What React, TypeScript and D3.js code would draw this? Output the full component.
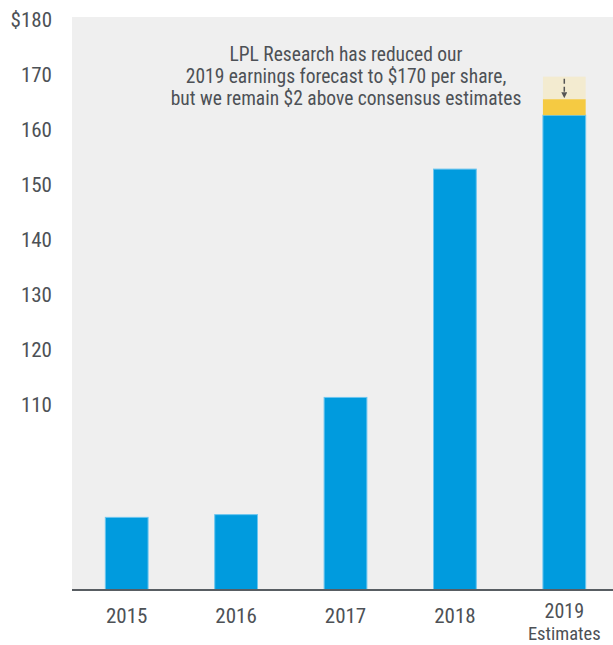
import React from 'react';
import { scaleBand, scaleLinear } from 'd3';

const years = ['2015', '2016', '2017', '2018', '2019'];
const subLabels = ['', '', '', '', 'Estimates'];
const earnings = [89.6, 90.1, 111.4, 152.9, 162.7];
// 2019 stacked pieces: consensus gap and the cut from the prior forecast
const consensusTop = 165.6;
const priorForecast = 169.7;
const ticks = [110, 120, 130, 140, 150, 160, 170, 180];
const note = [
  'LPL Research has reduced our',
  '2019 earnings forecast to $170 per share,',
  'but we remain $2 above consensus estimates',
];

const dims = {
  width: 613,
  height: 645,
  left: 72,
  right: 619,
  top: 20,
  bottom: 590,
  yMin: 76.4,
  yMax: 180,
};

const font = "'Liberation Sans Narrow', 'Roboto Condensed', 'DejaVu Sans Condensed', sans-serif";
const textColor = '#4d5156';

function App() {
  const x = scaleBand()
    .domain(years)
    .range([dims.left, dims.right])
    .paddingInner(0.6)
    .paddingOuter(0.3);
  const y = scaleLinear().domain([dims.yMin, dims.yMax]).range([dims.bottom, dims.top]);

  const last = years[years.length - 1];
  const lx = x(last)!;
  const bw = x.bandwidth();
  const cx = lx + bw / 2;

  return (
    <svg
      width={dims.width}
      height={dims.height}
      style={{ position: 'absolute', left: 0, top: 0, background: '#fff' }}
    >
      <defs>
        <marker id="arrow" viewBox="0 0 10 10" refX="5" refY="5" markerWidth="4" markerHeight="4" orient="auto">
          <path d="M0,0 L10,5 L0,10 z" fill="#555" />
        </marker>
      </defs>
      <rect x={dims.left} y={17} width={dims.width - dims.left} height={dims.bottom - 17} fill="#efefef" />

      {ticks.map(t => (
        <text key={t} x={52} y={y(t)} dy="0.35em" textAnchor="end" fontFamily={font} fontSize={21} fill={textColor}>
          {t === 180 ? `$${t}` : t}
        </text>
      ))}

      {years.map((yr, i) => (
        <rect
          key={yr}
          x={x(yr)! + 0.5}
          y={y(earnings[i])}
          width={bw - 1}
          height={dims.bottom - y(earnings[i])}
          fill="#009bde"
          stroke="#6cc6ef"
          strokeWidth={1}
        />
      ))}

      <rect x={lx + 0.5} y={y(priorForecast)} width={bw - 1} height={y(consensusTop) - y(priorForecast)} fill="#f3ebd0" />
      <rect x={lx + 0.5} y={y(consensusTop)} width={bw - 1} height={y(earnings[4]) - y(consensusTop)} fill="#f5ca42" />
      <line
        x1={cx}
        x2={cx}
        y1={y(priorForecast) + 2}
        y2={y(consensusTop) - 4}
        stroke="#555"
        strokeWidth={1.5}
        strokeDasharray="5,3"
        markerEnd="url(#arrow)"
      />

      <line x1={dims.left} x2={dims.width} y1={dims.bottom} y2={dims.bottom} stroke="#585d62" strokeWidth={2} />

      {years.map((yr, i) => (
        <g key={yr}>
          <text x={x(yr)! + bw / 2} y={subLabels[i] ? 618 : 623} textAnchor="middle" fontFamily={font} fontSize={subLabels[i] ? 20 : 21} fill={textColor}>
            {yr}
          </text>
          {subLabels[i] && (
            <text x={x(yr)! + bw / 2} y={639.5} textAnchor="middle" fontFamily={font} fontSize={18.5} fill={textColor}>
              {subLabels[i]}
            </text>
          )}
        </g>
      ))}

      {note.map((line, i) => (
        <text key={i} x={346} y={61 + i * 22} textAnchor="middle" fontFamily={font} fontSize={19.5} fill={textColor}>
          {line}
        </text>
      ))}
    </svg>
  );
}

export default App;
